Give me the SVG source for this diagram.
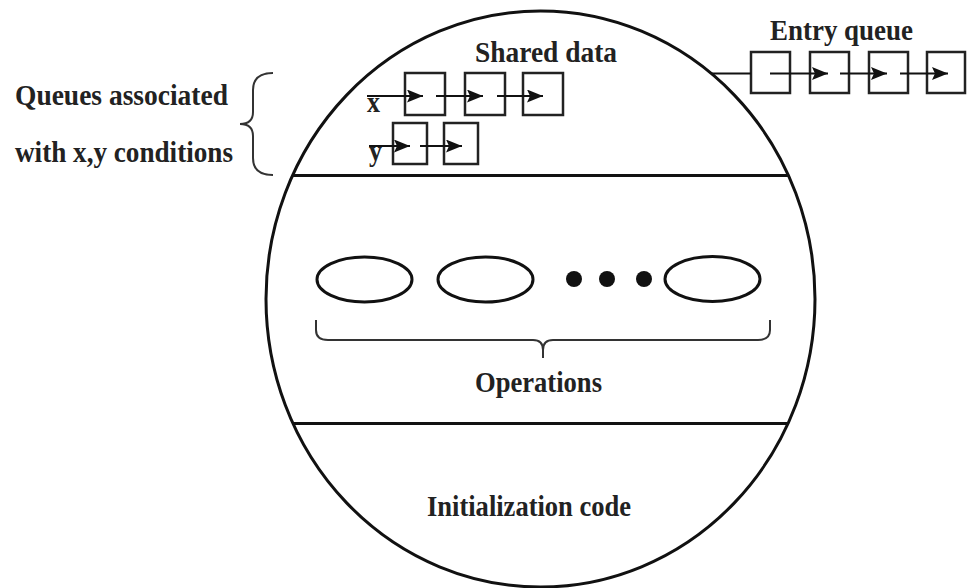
<svg xmlns="http://www.w3.org/2000/svg" width="967" height="588" viewBox="0 0 967 588">
<style>
.t{font-family:"Liberation Serif","Times New Roman",serif;font-weight:bold;font-size:30px;fill:#222}
.ln{stroke:#111;stroke-width:3;fill:none}
.bx{stroke:#222;stroke-width:2.5;fill:none}
.ar{stroke:#111;stroke-width:2;fill:none;marker-end:url(#ah)}
.br{stroke:#333;stroke-width:2;fill:none}
.op{stroke:#111;stroke-width:3;fill:none}
</style>
<defs>
<marker id="ah" viewBox="0 0 16 13" refX="16" refY="6.5" markerWidth="16" markerHeight="13" markerUnits="userSpaceOnUse" orient="auto">
<path d="M0,0 L16,6.5 L0,13 L3,6.5 Z" fill="#111"/>
</marker>
</defs>
<rect width="967" height="588" fill="#fff"/>
<g id="monitor">
<ellipse cx="540.5" cy="299" rx="274.5" ry="288" class="ln"/>
<line x1="292" y1="175.5" x2="788" y2="175.5" class="ln"/>
<line x1="292" y1="423.5" x2="788" y2="423.5" class="ln"/>
</g>
<g id="shared-data">
<text class="t" x="475" y="62" textLength="142" lengthAdjust="spacingAndGlyphs">Shared data</text>
</g>
<g id="queue-x">
<rect x="405" y="73" width="40" height="42" class="bx"/>
<rect x="465" y="73" width="40" height="42" class="bx"/>
<rect x="523" y="73" width="40" height="42" class="bx"/>
<text class="t" x="367" y="112" textLength="13" lengthAdjust="spacingAndGlyphs">x</text>
</g>
<g id="queue-y">
<rect x="393" y="123" width="34" height="41" class="bx"/>
<rect x="444" y="123" width="34" height="41" class="bx"/>
<text class="t" x="369" y="161" textLength="13" lengthAdjust="spacingAndGlyphs">y</text>
</g>
<g id="entry-queue">
<text class="t" x="770" y="40" textLength="143" lengthAdjust="spacingAndGlyphs">Entry queue</text>
<rect x="751" y="52" width="39" height="41" class="bx"/>
<rect x="810" y="52" width="39" height="41" class="bx"/>
<rect x="869" y="52" width="39" height="41" class="bx"/>
<rect x="927" y="52" width="38" height="41" class="bx"/>
</g>
<g id="conditions-label">
<text class="t" x="15" y="105" textLength="213" lengthAdjust="spacingAndGlyphs">Queues associated</text>
<text class="t" x="15" y="162" textLength="218" lengthAdjust="spacingAndGlyphs">with x,y conditions</text>
<path class="br" d="M273,73 Q253,73 253,90 L253,112 Q253,124 240,124 Q253,124 253,136 L253,158 Q253,175 273,175"/>
</g>
<g id="operations">
<ellipse cx="364.5" cy="279.5" rx="47.5" ry="22.5" class="op"/>
<ellipse cx="485.5" cy="279.5" rx="47.5" ry="22.5" class="op"/>
<circle cx="574" cy="279" r="8" fill="#111"/>
<circle cx="607" cy="279" r="8" fill="#111"/>
<circle cx="644" cy="279" r="8" fill="#111"/>
<ellipse cx="712.5" cy="279" rx="47.5" ry="22.5" class="op"/>
<path class="br" d="M316,320 L316,330 Q316,340 328,340 L533,340 Q543,340 543,350 L543,358 M543,350 Q543,340 553,340 L758,340 Q770,340 770,330 L770,320"/>
<text class="t" x="475" y="392" textLength="127" lengthAdjust="spacingAndGlyphs">Operations</text>
</g>
<g id="initialization">
<text class="t" x="427" y="516" textLength="204" lengthAdjust="spacingAndGlyphs">Initialization code</text>
</g>
<g id="connectors">
<line x1="367" y1="96" x2="423" y2="96" class="ar"/>
<line x1="436" y1="96" x2="483" y2="96" class="ar"/>
<line x1="497" y1="96" x2="543" y2="96" class="ar"/>
<line x1="369" y1="146" x2="410" y2="146" class="ar"/>
<line x1="420" y1="146" x2="462" y2="146" class="ar"/>
<line x1="711" y1="73.5" x2="751" y2="73.5" stroke="#111" stroke-width="2"/>
<line x1="770" y1="73.5" x2="828" y2="73.5" class="ar"/>
<line x1="840" y1="73.5" x2="887" y2="73.5" class="ar"/>
<line x1="900" y1="73.5" x2="948" y2="73.5" class="ar"/>
</g>
</svg>
